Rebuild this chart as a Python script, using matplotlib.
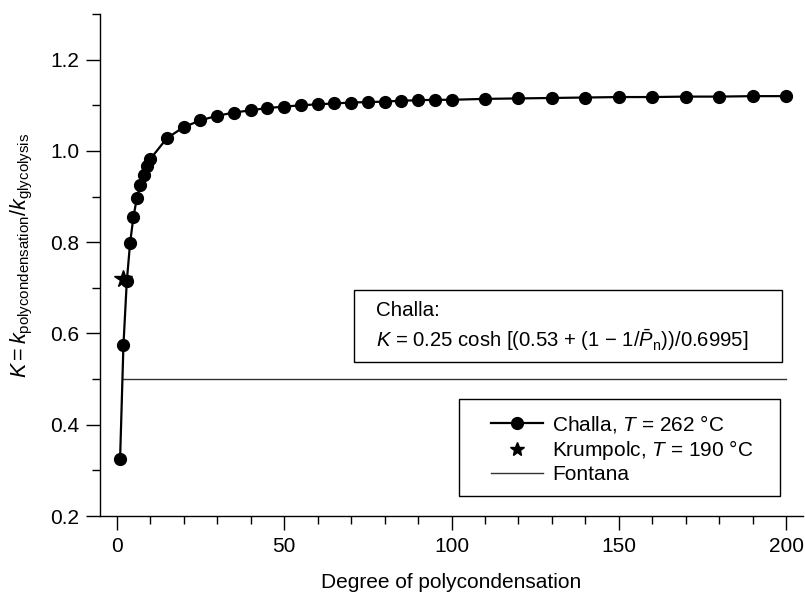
import matplotlib
matplotlib.use("Agg")
import matplotlib.pyplot as plt
from matplotlib.ticker import MultipleLocator
from matplotlib.lines import Line2D
from matplotlib.patches import Rectangle

plt.rcParams['font.family'] = ['Liberation Sans', 'DejaVu Sans']
plt.rcParams['mathtext.fontset'] = 'custom'
plt.rcParams['mathtext.rm'] = 'Liberation Sans'
plt.rcParams['mathtext.it'] = 'Liberation Sans:italic'
plt.rcParams['mathtext.bf'] = 'Liberation Sans:bold'

# Data
challa_p = [1, 2, 3, 4, 5, 6, 7, 8, 9, 10, 15, 20, 25, 30, 35, 40, 45, 50, 55, 60,
            65, 70, 75, 80, 85, 90, 95, 100, 110, 120, 130, 140, 150, 160, 170,
            180, 190, 200]
challa_k = [0.325, 0.574, 0.714, 0.799, 0.856, 0.896, 0.925, 0.948, 0.967, 0.982,
            1.028, 1.052, 1.067, 1.077, 1.084, 1.089, 1.094, 1.097, 1.100, 1.102,
            1.104, 1.106, 1.107, 1.108, 1.110, 1.111, 1.112, 1.112, 1.114, 1.115,
            1.116, 1.117, 1.118, 1.118, 1.119, 1.119, 1.120, 1.120]
krumpolc_p = [2]
krumpolc_k = [0.72]
fontana_p = [1.9, 200]
fontana_k = [0.5, 0.5]

fig = plt.figure(figsize=(8.05, 5.94), dpi=100)
ax = fig.add_axes([100/805, 1-516/594, 703/805, 502/594])

ax.plot(fontana_p, fontana_k, color='#333333', lw=1.0, zorder=2)
ax.plot(challa_p, challa_k, color='black', lw=1.6, marker='o', markersize=8.5, zorder=3)
ax.plot(krumpolc_p, krumpolc_k, color='black', lw=0, marker='*', markersize=13, zorder=4)

ax.set_xlim(-5, 205)
ax.set_ylim(0.2, 1.3)
ax.xaxis.set_major_locator(MultipleLocator(50))
ax.xaxis.set_minor_locator(MultipleLocator(10))
ax.yaxis.set_major_locator(MultipleLocator(0.2))
ax.yaxis.set_minor_locator(MultipleLocator(0.1))
ax.yaxis.set_major_formatter(matplotlib.ticker.FormatStrFormatter('%.1f'))
ax.spines['top'].set_visible(False)
ax.spines['right'].set_visible(False)
for s in ('left', 'bottom'):
    ax.spines[s].set_linewidth(1.0)
ax.tick_params(which='major', direction='out', length=10, width=1.0, labelsize=15, pad=5)
ax.tick_params(which='minor', direction='out', length=6, width=1.0)

ax.set_xlabel('Degree of polycondensation', fontsize=15, labelpad=12)
ax.set_ylabel(r'$K = k_{\mathrm{polycondensation}}/k_{\mathrm{glycolysis}}$', fontsize=15.5)
ax.yaxis.set_label_coords(-0.092, 0.52)

# Annotation box
x0, x1 = (354-100)/703, (782-100)/703
y0, y1 = (516-362)/502, (516-290)/502
ax.add_patch(Rectangle((x0, y0), x1-x0, y1-y0, transform=ax.transAxes,
                       fill=False, edgecolor='black', lw=1.0, zorder=5))
ax.text((376-100)/703, (516-311)/502, 'Challa:', transform=ax.transAxes,
        fontsize=14.8, va='center', ha='left')
ax.text((376-100)/703, (516-340)/502,
        r'$K$ = 0.25 cosh [(0.53 + (1 $-$ 1/$\bar{P}_{\mathrm{n}}$))/0.6995]',
        transform=ax.transAxes, fontsize=14.6, va='center', ha='left')

# Legend (frame drawn separately)
lx0, lx1 = (459-100)/703, (780-100)/703
ly0, ly1 = (516-496)/502, (516-399)/502
ax.add_patch(Rectangle((lx0, ly0), lx1-lx0, ly1-ly0, transform=ax.transAxes,
                       fill=False, edgecolor='black', lw=1.0, zorder=5))
handles = [Line2D([], [], color='black', lw=1.6, marker='o', markersize=8.5),
           Line2D([], [], color='black', lw=0, marker='*', markersize=10),
           Line2D([], [], color='#333333', lw=1.0)]
labels = [r'Challa, $T$ = 262 °C', r'Krumpolc, $T$ = 190 °C', 'Fontana']
leg = ax.legend(handles, labels, loc='upper left',
                bbox_to_anchor=((491-100)/703, (516-413)/502),
                frameon=False, fontsize=15,
                handlelength=2.5, handletextpad=0.45, borderpad=0,
                labelspacing=0.14, borderaxespad=0)

fig.savefig('out.png', dpi=100)
